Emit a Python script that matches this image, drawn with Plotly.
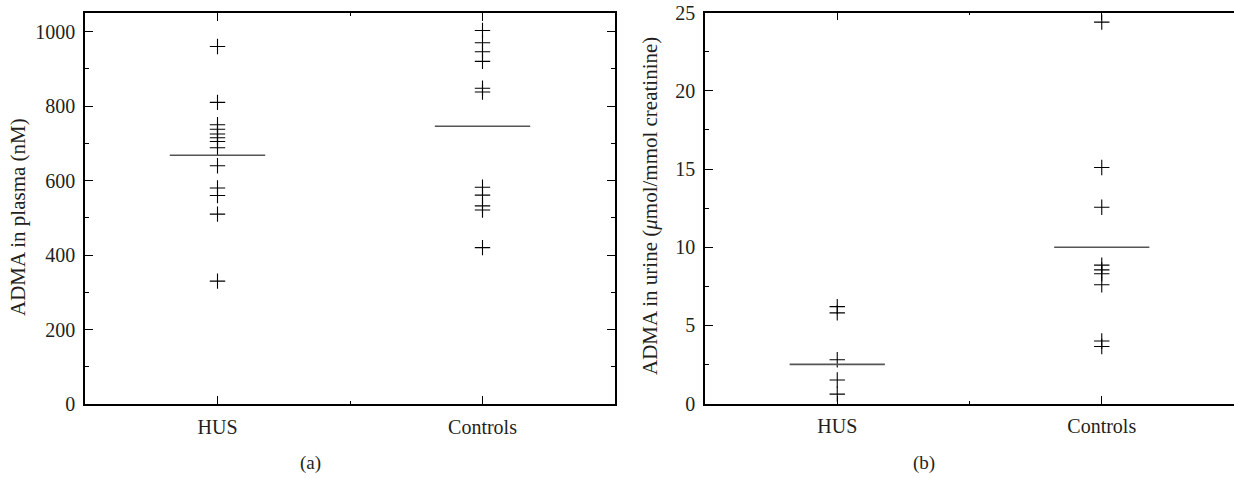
import plotly.graph_objects as go

# ---------------- data ----------------
categories = ["HUS", "Controls"]

plasma_hus = [960, 810, 750, 738, 725, 715, 705, 688, 640, 580, 560, 510, 330]
plasma_controls = [1003, 970, 946, 920, 848, 838, 582, 561, 532, 521, 420]
plasma_centre = [668, 746]

urine_hus = [6.2, 5.8, 2.8, 1.5, 0.6]
urine_controls = [24.4, 15.1, 12.55, 8.85, 8.55, 8.3, 7.6, 4.0, 3.65]
urine_centre = [2.5, 10.0]

plasma_ticks = [0, 200, 400, 600, 800, 1000]
urine_ticks = [0, 5, 10, 15, 20, 25]

# ---------------- style ----------------
FONT = "Liberation Serif"
TXT = "#231f20"
HALF = 0.18

fig = go.Figure()


def add_panel(groups, centres, xa, ya):
    for i, vals in enumerate(groups):
        pos = i + 1
        fig.add_trace(go.Scatter(
            x=[pos] * len(vals), y=vals, mode="markers",
            marker=dict(symbol="cross-thin", size=11, color="black",
                        line=dict(color="black", width=1.1)),
            xaxis=xa, yaxis=ya, showlegend=False, hoverinfo="y"))
    lx, ly = [], []
    for i, c in enumerate(centres):
        pos = i + 1
        lx += [pos - HALF, pos + HALF, None]
        ly += [c, c, None]
    fig.add_trace(go.Scatter(x=lx, y=ly, mode="lines",
                             line=dict(color="#555555", width=1.6),
                             xaxis=xa, yaxis=ya, showlegend=False,
                             hoverinfo="skip"))


add_panel([plasma_hus, plasma_controls], plasma_centre, "x", "y")
add_panel([urine_hus, urine_controls], urine_centre, "x2", "y2")

xcommon = dict(range=[0.5, 2.5], tickvals=[1, 2], ticktext=categories,
               showline=True, linecolor="black", linewidth=1.5,
               ticks="inside", ticklen=8, tickwidth=1.2, tickcolor="black",
               minor=dict(dtick=0.5, tick0=0.5, ticks="inside", ticklen=3,
                          tickcolor="black", tickwidth=1),
               showgrid=False, zeroline=False,
               tickfont=dict(family=FONT, size=20, color=TXT),
               ticklabelstandoff=4)
ycommon = dict(showline=True, linecolor="black", linewidth=1.5,
               ticks="inside", ticklen=8, tickwidth=1.2, tickcolor="black",
               showgrid=False, zeroline=False,
               tickfont=dict(family=FONT, size=20, color=TXT),
               ticklabelstandoff=4)

fig.update_layout(
    width=1234, height=479,
    margin=dict(l=0, r=0, t=0, b=0, autoexpand=False),
    paper_bgcolor="white", plot_bgcolor="white",
    xaxis=dict(domain=[85 / 1234, 615 / 1234], anchor="y", mirror="ticks",
               **xcommon),
    yaxis=dict(domain=[1 - 404 / 479, 1 - 13 / 479], anchor="x",
               range=[0, 1050], tickvals=plasma_ticks, mirror="ticks",
               minor=dict(dtick=100, ticks="inside", ticklen=4,
                          tickcolor="black", tickwidth=1),
               **ycommon),
    xaxis2=dict(domain=[705 / 1234, 1.0], anchor="y2", mirror="ticks",
                **xcommon),
    yaxis2=dict(domain=[1 - 403.5 / 479, 1 - 12.7 / 479], anchor="x2",
                range=[0, 25], tickvals=urine_ticks, mirror=False,
                minor=dict(dtick=2.5, ticks="inside", ticklen=4,
                           tickcolor="black", tickwidth=1),
                **ycommon),
)

ann_font = dict(family=FONT, size=21, color=TXT)
fig.add_annotation(text="ADMA in plasma (nM)", textangle=-90,
                   x=18, y=217, showarrow=False, font=ann_font)
fig.add_annotation(text="ADMA in urine (<i>μ</i>mol/mmol creatinine)",
                   textangle=-90, x=650, y=206, showarrow=False,
                   font=ann_font)
fig.add_annotation(text="(a)", x=310, y=463, showarrow=False,
                   font=dict(family=FONT, size=19, color=TXT))
fig.add_annotation(text="(b)", x=924, y=463, showarrow=False,
                   font=dict(family=FONT, size=19, color=TXT))

# convert pixel-positioned annotations to paper coords
for a in fig.layout.annotations:
    a.xref = "paper"
    a.yref = "paper"
    a.x = a.x / 1234
    a.y = 1 - a.y / 479
    a.xanchor = "center"
    a.yanchor = "middle"

fig.write_html("out.html")
